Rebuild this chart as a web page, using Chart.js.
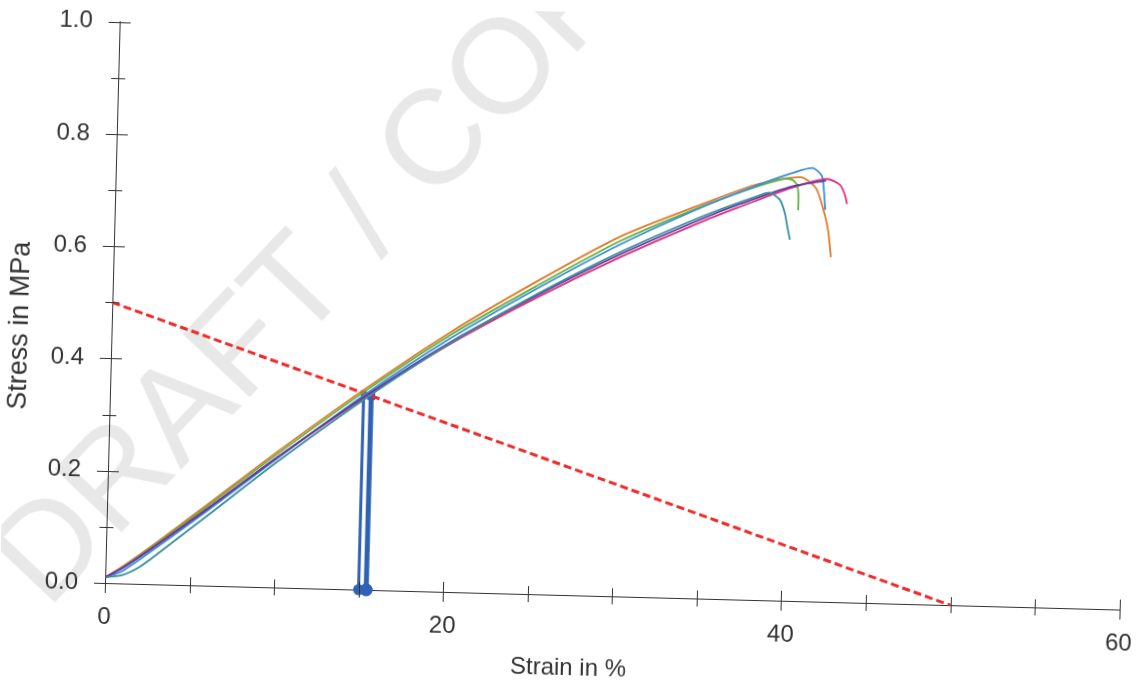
<!DOCTYPE html>
<html>
<head>
<meta charset="utf-8">
<title>Stress-strain</title>
<script src="https://cdn.jsdelivr.net/npm/chart.js@4"></script>
<style>
    html, body { margin: 0; padding: 0; background: #fff; overflow: hidden; }
    /* the scanned sheet sits slightly skewed, so the whole plot is turned a little */
    #wrap {
        position: absolute; left: 0; top: 0;
        width: 1136px; height: 689px;
        transform: rotate(1.5deg);
        transform-origin: 105px 583px;
    }
</style>
</head>
<body>
<div id="wrap"><canvas id="chart" width="1136" height="689"></canvas></div>
<script>
// Specimen curves (strain in %, stress in MPa)
const strainOrange = [0, 1, 3, 6, 10, 15, 20, 25, 30, 35, 38, 40.5, 41.4, 41.8, 42.2, 42.4];
const stressOrange = [0.01, 0.03, 0.075, 0.146, 0.242, 0.356, 0.462, 0.556, 0.642, 0.706, 0.741, 0.755, 0.737, 0.707, 0.662, 0.614];

const strainGreen = [0, 1, 3, 6, 10, 15, 20, 25, 30, 35, 38, 39.5, 40.0, 40.3, 40.4, 40.4];
const stressGreen = [0.01, 0.029, 0.073, 0.143, 0.238, 0.352, 0.457, 0.548, 0.634, 0.702, 0.737, 0.751, 0.75, 0.741, 0.72, 0.696];

const strainBlue = [0, 1, 3, 6, 10, 15, 20, 25, 30, 35, 38, 40, 41.2, 41.75, 41.9, 42.0];
const stressBlue = [0.01, 0.022, 0.066, 0.135, 0.23, 0.346, 0.451, 0.543, 0.628, 0.701, 0.739, 0.762, 0.772, 0.758, 0.73, 0.698];

const strainTeal = [0, 1, 2, 3, 6, 10, 15, 20, 25, 30, 35, 38.1, 38.7, 39.3, 39.6, 39.8, 39.96];
const stressTeal = [0.01, 0.015, 0.03, 0.053, 0.126, 0.224, 0.338, 0.442, 0.533, 0.614, 0.684, 0.721, 0.726, 0.714, 0.692, 0.664, 0.643];

const strainPurple = [0, 1, 3, 6, 10, 15, 20, 25, 30, 35, 37, 40, 42];
const stressPurple = [0.01, 0.027, 0.07, 0.138, 0.232, 0.343, 0.444, 0.531, 0.61, 0.68, 0.705, 0.738, 0.75];

const strainMagenta = [0, 1, 3, 6, 10, 15, 20, 25, 30, 35, 37, 39.9, 42.06, 42.84, 43.14, 43.28];
const stressMagenta = [0.01, 0.028, 0.071, 0.139, 0.232, 0.341, 0.441, 0.527, 0.605, 0.675, 0.7, 0.735, 0.753, 0.743, 0.7255, 0.7095];

// Red dashed line and the two blue markers
const lineStrain = [0, 50];
const lineStress = [0.5, 0];
const markerStrain = [15.0, 15.45];
const markerStress = [0.35, 0.345];

// Axis tick marks
const xTickMarks = [0, 5, 10, 15, 20, 25, 30, 35, 40, 45, 50, 55, 60];
const yTickMarks = [0, 0.1, 0.2, 0.3, 0.4, 0.5, 0.6, 0.7, 0.8, 0.9, 1.0];

const FONT = '"Liberation Sans", Arial, sans-serif';
const TEXT = '#333';

const toPoints = (xs, ys) => xs.map((v, i) => ({ x: v, y: ys[i] }));

function curve(xs, ys, color) {
    return {
        data: toPoints(xs, ys),
        borderColor: color,
        borderWidth: 1.8,
        pointRadius: 0,
        tension: 0.25,
        fill: false
    };
}

function marker(i, width) {
    return {
        data: [{ x: markerStrain[i], y: 0 }, { x: markerStrain[i], y: markerStress[i] }],
        borderColor: '#2f62b5',
        backgroundColor: '#2f62b5',
        borderWidth: width,
        pointRadius: [4, 2],
        pointStyle: ['circle', 'rect'],
        tension: 0,
        clip: false
    };
}

// Cross-shaped tick marks on both axes, plus the two axis titles
const crossTicks = {
    id: 'crossTicks',
    afterDraw(chart) {
        const { ctx, chartArea, scales: { x, y } } = chart;
        ctx.save();
        ctx.strokeStyle = TEXT;
        ctx.lineWidth = 1;
        ctx.beginPath();
        xTickMarks.forEach(v => {
            const px = Math.round(x.getPixelForValue(v)) + 0.5;
            const h = v % 20 === 0 ? 10 : 8;
            ctx.moveTo(px, chartArea.bottom - h);
            ctx.lineTo(px, chartArea.bottom + h);
        });
        yTickMarks.forEach(v => {
            const py = Math.round(y.getPixelForValue(v)) + 0.5;
            const w = Math.round(v * 10) % 2 === 0 ? 11 : 7;
            ctx.moveTo(chartArea.left - w, py);
            ctx.lineTo(chartArea.left + w, py);
        });
        ctx.stroke();

        ctx.fillStyle = TEXT;
        ctx.textAlign = 'center';
        ctx.textBaseline = 'middle';

        ctx.font = '24px ' + FONT;
        ctx.fillText('Strain in %', 570, 656);

        ctx.translate(14, 328);
        ctx.rotate(-Math.PI / 2);
        ctx.font = '27px ' + FONT;
        ctx.fillText('Stress in MPa', 0, 0);
        ctx.restore();
    }
};

// Faint watermark across the sheet
const watermark = {
    id: 'watermark',
    beforeDraw(chart) {
        const ctx = chart.ctx;
        ctx.save();
        ctx.translate(48, 612);
        ctx.rotate(-48 * Math.PI / 180);
        ctx.font = '134px ' + FONT;
        ctx.fillStyle = 'rgba(200, 200, 200, 0.42)';
        ctx.fillText('DRAFT / COPY', 0, 0);
        ctx.restore();
    }
};

const tickFont = { family: FONT, size: 24 };

new Chart(document.getElementById('chart'), {
    type: 'line',
    data: {
        datasets: [
            curve(strainTeal, stressTeal, '#3a8f9e'),
            curve(strainPurple, stressPurple, '#5b3c9e'),
            curve(strainMagenta, stressMagenta, '#e0307f'),
            curve(strainBlue, stressBlue, '#3b8fd8'),
            curve(strainGreen, stressGreen, '#62b343'),
            curve(strainOrange, stressOrange, '#e07b2a'),
            {
                data: toPoints(lineStrain, lineStress),
                borderColor: '#ee2a2a',
                borderWidth: 3,
                borderDash: [8, 4],
                pointRadius: 0,
                tension: 0,
                clip: false
            },
            marker(0, 3),
            marker(1, 5)
        ]
    },
    options: {
        responsive: false,
        animation: false,
        // plot area: left 105, top 21.6, right 1119.6, bottom 583
        layout: { padding: { top: 21.6, right: 16.4, left: 0, bottom: 0 } },
        plugins: {
            legend: { display: false },
            tooltip: { enabled: false }
        },
        scales: {
            x: {
                type: 'linear',
                min: 0,
                max: 60,
                // fixed box size; label padding must not push the plot area in
                afterFit: s => { s.height = 106; s.paddingLeft = 0; s.paddingRight = 0; },
                grid: { display: false, drawTicks: false },
                border: { display: true, color: TEXT, width: 1 },
                ticks: { stepSize: 20, padding: 20, color: TEXT, font: tickFont, maxRotation: 0 }
            },
            y: {
                type: 'linear',
                min: 0,
                max: 1,
                afterFit: s => { s.width = 105; s.paddingTop = 0; s.paddingBottom = 0; },
                grid: { display: false, drawTicks: false },
                border: { display: true, color: TEXT, width: 1 },
                ticks: {
                    stepSize: 0.2,
                    padding: 27,
                    color: TEXT,
                    font: tickFont,
                    callback: v => v.toFixed(1)
                }
            }
        }
    },
    plugins: [watermark, crossTicks]
});
</script>
</body>
</html>
